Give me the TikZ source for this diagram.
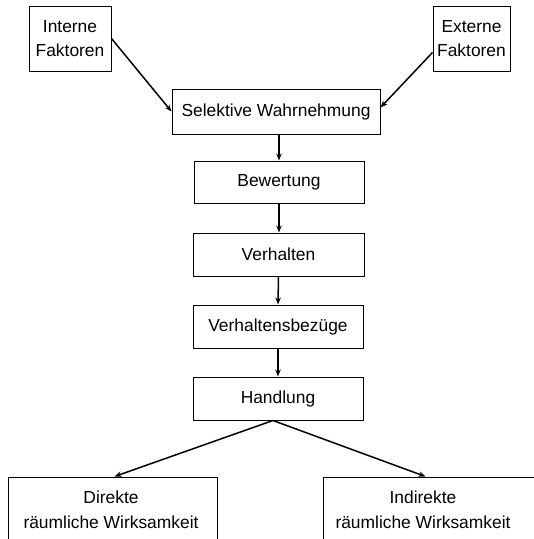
\documentclass[tikz,border=0pt]{standalone}
\usepackage{fontspec}
\setmainfont{Liberation Sans}
\usetikzlibrary{arrows.meta}
\tikzset{
  box/.style={draw, line width=1pt, inner sep=0pt, align=center, font=\fontsize{17.4}{24}\selectfont},
  txt/.style={inner sep=0pt, align=center, font=\fontsize{17.4}{25}\selectfont},
  arr/.style={line width=1.5pt, -{Stealth[length=7pt,width=5.5pt]}},
}
\begin{document}
\begin{tikzpicture}[x=1pt,y=-1pt]
\useasboundingbox (0,0) rectangle (534,539);
\node[box, minimum width=82, minimum height=65] (intern) at (70,38.5) {Interne\\Faktoren};
\node[box, minimum width=77, minimum height=65] (extern) at (471.5,38.5) {Externe\\Faktoren};
\node[box, minimum width=208, minimum height=45] (sel) at (276,111.5) {Selektive Wahrnehmung};
\node[box, minimum width=170, minimum height=42] (bew) at (279,182) {Bewertung};
\node[box, minimum width=171, minimum height=43] (verh) at (278.5,254.5) {Verhalten};
\node[box, minimum width=170, minimum height=43] (bez) at (278,326.5) {Verhaltensbezüge};
\node[box, minimum width=170, minimum height=43] (hand) at (278,398.5) {Handlung};
\node[box, minimum width=209, minimum height=123] (dbox) at (112.5,538.5) {};
\node[box, minimum width=215, minimum height=123] (ibox) at (430.5,538.5) {};
\node[txt] (dtext) at (111,509.5) {Direkte\\räumliche Wirksamkeit};
\node[txt] (itext) at (423,509.5) {Indirekte\\räumliche Wirksamkeit};
\draw[arr] (intern.east) -- (sel.west);
\draw[arr] ([yshift=-14pt]extern.west) -- ([yshift=4pt]sel.east);
\draw[arr] (bew.north |- sel.south) -- (bew.north);
\draw[arr] (bew.south) -- (verh.north -| bew.south);
\draw[arr] (verh.south) -- (bez.north);
\draw[arr] (bez.south) -- (hand.north);
\draw[arr] ([xshift=-5pt]hand.south) -- ([xshift=2pt]dbox.north);
\draw[arr] ([xshift=-5pt]hand.south) -- ([xshift=-5pt]ibox.north);
\end{tikzpicture}
\end{document}
